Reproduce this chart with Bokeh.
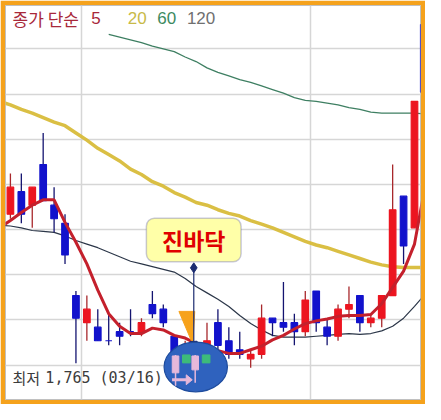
from bokeh.plotting import figure
from bokeh.models import Range1d, Grid, FixedTicker, Label, BoxAnnotation, ColumnDataSource
from bokeh.embed import file_html
from bokeh.resources import INLINE

# ---------------- data ----------------
day = list(range(39))
open_ = [1935, 1960, 1945, 1990, 1945, 1925, 1845, 1815, 1810, 1795, 1805, 1805, 1805, 1835, 1830, 1800,
         1780, 1790, 1785, 1815, 1795, 1785, 1775, 1780, 1820, 1815, 1815, 1805, 1850, 1810, 1800, 1830,
         1845, 1815, 1820, 1845, 1955, 1920, 2145]
close = [1965, 1935, 1965, 1950, 1930, 1890, 1820, 1830, 1795, 1795, 1800, 1805, 1815, 1825, 1815, 1780,
         1790, 1785, 1795, 1790, 1780, 1780, 1780, 1820, 1815, 1810, 1805, 1840, 1815, 1800, 1830, 1835,
         1815, 1820, 1845, 1940, 1900, 2060, 2070]
high = [1980, 1980, 1965, 2025, 1965, 1935, 1850, 1845, 1830, 1825, 1815, 1830, 1820, 1850, 1835, 1800,
        1795, 1795, 1815, 1830, 1810, 1805, 1785, 1835, 1820, 1860, 1825, 1850, 1850, 1820, 1835, 1855,
        1845, 1825, 1845, 1990, 1955, 2060, 2145]
low = [1930, 1925, 1920, 1950, 1915, 1880, 1770, 1795, 1795, 1790, 1790, 1800, 1800, 1820, 1810, 1775,
       1770, 1775, 1780, 1780, 1775, 1775, 1765, 1775, 1800, 1805, 1790, 1800, 1805, 1790, 1795, 1820,
       1805, 1810, 1810, 1845, 1880, 1920, 2070]

ma_day = list(range(-1, 39))
ma5 = [1920, 1928, 1937, 1945, 1951, 1951, 1926, 1904, 1880, 1851, 1825, 1811, 1803, 1803, 1809, 1807,
       1801, 1798, 1792, 1787, 1784, 1781, 1781, 1785, 1789, 1796, 1801, 1808, 1814, 1817, 1819, 1822,
       1823, 1823, 1824, 1836, 1854, 1872, 1902, 1968]
ma20 = [2060, 2056, 2051, 2047, 2042, 2037, 2033, 2025, 2017, 2008, 2001, 1994, 1985, 1979, 1971, 1966,
        1959, 1954, 1948, 1945, 1940, 1936, 1933, 1928, 1924, 1920, 1915, 1910, 1905, 1901, 1898, 1894,
        1890, 1886, 1882, 1879, 1877, 1876, 1876, 1876]
ma120 = [1923, 1922, 1920, 1917, 1916, 1915, 1911, 1906, 1902, 1898, 1893, 1888, 1883, 1880, 1877, 1874,
         1871, 1864, 1855, 1848, 1841, 1833, 1823, 1814, 1807, 1801, 1799, 1799, 1799, 1800, 1801, 1802,
         1803, 1802, 1803, 1806, 1811, 1820, 1833, 1847]
ma60_day = list(range(9, 39))
ma60 = [2134, 2131, 2128, 2125, 2121, 2118, 2115, 2109, 2104, 2097, 2092, 2088, 2084, 2081, 2077, 2073,
        2069, 2064, 2061, 2060, 2058, 2056, 2053, 2051, 2048, 2047, 2047, 2047, 2047, 2046]

grid_prices = [1768, 1818, 1868, 1918, 1968, 2018, 2068, 2118]
grid_days = [6.5, 27.45]

legend_title = "종가 단순"
legend_periods = ["5", "20", "60", "120"]
low_word = "최저"
low_value = "1,765 (03/16)"
callout_text = "진바닥"

# ---------------- figure ----------------
ORANGE = "#F5A21C"
RED = "#EC1520"
BLUE = "#1212CC"
FONT = "Noto Sans CJK KR"
NUMFONT = "Liberation Sans"

p = figure(width=425, height=404, x_range=Range1d(-0.45, 37.55), y_range=Range1d(1730, 2166),
           x_axis_type=None, y_axis_type=None, output_backend="svg", toolbar_location=None,
           min_border_left=5, min_border_right=5, min_border_top=5, min_border_bottom=5,
           border_fill_color=ORANGE, background_fill_color="white",
           outline_line_color="#C0C0C0", outline_line_width=1)

p.add_layout(Grid(dimension=0, ticker=FixedTicker(ticks=grid_days),
                  grid_line_color="#D6D6D6", grid_line_width=1.5))
p.add_layout(Grid(dimension=1, ticker=FixedTicker(ticks=grid_prices),
                  grid_line_color="#D6D6D6", grid_line_width=1.5))

# slower moving averages behind candles
p.line(ma60_day, ma60, line_color="#3E7F62", line_width=1.3)
p.line(ma_day, ma20, line_color="#D8BC3A", line_width=3.5, line_alpha=0.95)
p.line(ma_day, ma120, line_color="#2B3648", line_width=1.2)

up = [c > o for o, c in zip(open_, close)]
src = ColumnDataSource(dict(
    day=day, high=high, low=low,
    top=[max(o, c) for o, c in zip(open_, close)],
    bottom=[min(o, c) for o, c in zip(open_, close)],
    body=[RED if u else BLUE for u in up],
    wick=["#A8282C" if u else "#141470" for u in up],
))
p.segment(x0="day", y0="high", x1="day", y1="low", line_color="wick", line_width=1.3, source=src)
p.vbar(x="day", width=0.6, top="top", bottom="bottom", fill_color="body", line_color="body",
       line_width=1.2, source=src)

p.line(ma_day, ma5, line_color="#C4202C", line_width=3)

# callout decorations
p.patch([15.43, 16.88, 16.70], [1827.5, 1827.5, 1791.3], fill_color="#F7A21B", line_color="#F7A21B")
p.segment(x0=[16.79], y0=[1875.7], x1=[16.79], y1=[1793], line_color="#1C2C70", line_width=1.2)
p.scatter([16.79], [1875.7], marker="diamond", size=10, fill_color="#1C2C70", line_color="#1C2C70")
p.scatter([16.79], [1792], marker="inverted_triangle", size=7, fill_color="#1C2C70", line_color="#1C2C70")

p.ellipse(x=[16.97], y=[1766], width=5.8, height=55, fill_color="#2F62BE", line_color="#1E4C9E",
          line_width=1.2)
# pale logo candles inside the ellipse
p.segment(x0=[15.12, 16.92], y0=[1779.3, 1779.3], x1=[15.12, 16.92], y1=[1745.3, 1748.6],
          line_color="#E6B8DA", line_width=1.5)
p.vbar(x=[15.12, 16.92], width=0.6, top=[1778.2, 1778.2], bottom=[1759.5, 1762.8],
       fill_color="#E6B8DA", line_color="#E6B8DA")
p.vbar(x=[16.11, 17.92], width=0.7, top=[1779.3, 1779.3], bottom=[1770.5, 1770.5],
       fill_color="#3DBB7A", line_color="#3DBB7A")
p.segment(x0=[14.8], y0=[1751.8], x1=[16.2], y1=[1751.8], line_color="#E6B8DA", line_width=3)
p.patch([16.1, 16.65, 16.1], [1757.3, 1751.8, 1746.4], fill_color="#E6B8DA", line_color="#E6B8DA")

box = BoxAnnotation(left=12.45, right=21.12, bottom=1882.3, top=1930.6,
                    fill_color="#FFFFA8", fill_alpha=1.0, line_color="#4848A0", line_width=1.5,
                    border_radius=8)
p.add_layout(box)
p.add_layout(Label(x=16.79, y=1906.4, text=callout_text, text_align="center", text_baseline="middle",
                   text_color="#E00000", text_font=FONT, text_font_size="23px", text_font_style="bold"))

# legend texts
p.add_layout(Label(x=0.2, y=2152, text=legend_title, text_baseline="middle",
                   text_color="#A8283A", text_font=FONT, text_font_size="17px"))
for xi, txt, col in zip([7.4, 10.74, 13.45, 16.16], legend_periods,
                        ["#A8283A", "#C8BA48", "#3D8A5F", "#707070"]):
    p.add_layout(Label(x=xi, y=2152, text=txt, text_baseline="middle",
                       text_color=col, text_font=NUMFONT, text_font_size="17px"))

p.add_layout(Label(x=0.18, y=1754, text=low_word, text_baseline="middle",
                   text_color="#3C3C3C", text_font=FONT, text_font_size="15px"))
p.add_layout(Label(x=3.2, y=1754, text=low_value, text_baseline="middle",
                   text_color="#3C3C3C", text_font="DejaVu Sans Mono", text_font_size="15px"))

open("out.html", "w").write(file_html(p, INLINE))
